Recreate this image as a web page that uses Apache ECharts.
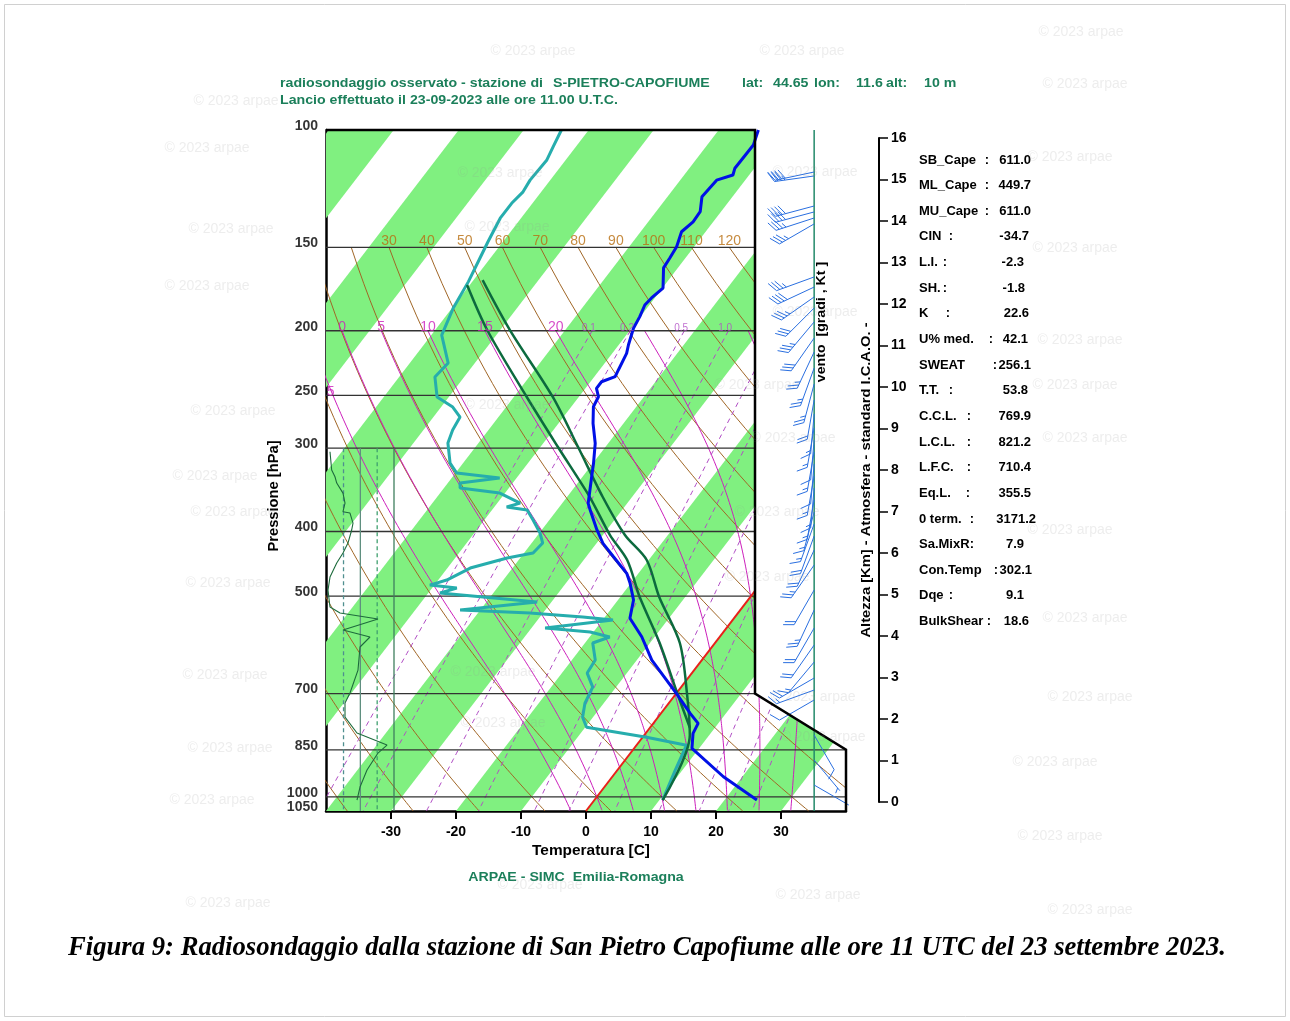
<!DOCTYPE html>
<html><head><meta charset="utf-8">
<script src="https://cdn.jsdelivr.net/npm/echarts@6/dist/echarts.min.js"></script>
<style>html,body{margin:0;padding:0;background:#fff}#c{width:1290px;height:1021px}</style>
</head><body><div id="c"></div>
<script>
// ---------------- DATA ----------------
const PRESSURE_LEVELS = [100,150,200,250,300,400,500,700,850,1000,1050];
const TEMP_TICKS = [-30,-20,-10,0,10,20,30];

const TEMP_P = [100,105.3,114.1,116.8,118.9,125.9,132.6,137.3,142.1,149.6,155.6,161,172.6,178.6,183,190.5,198.3,210.1,216.2,229,234.4,238.5,244,251.2,260,275.3,295,316.1,331.1,346.6,362.9,371.4,397.9,416.7,436.4,462.2,478.4,506.8,539.8,575.3,623.5,699.4,749.5,775.8,803.1,845.7,932.9,1011];
const TEMP_T = [-53.9,-52.9,-53.0,-52.5,-54.4,-54.7,-53.2,-53.1,-53.7,-52.7,-52.4,-52.2,-49.9,-50.5,-50.7,-50.1,-49.7,-48.5,-47.8,-47.1,-46.8,-48.3,-48.3,-47.0,-46.6,-44.7,-42.0,-39.9,-38.6,-37.3,-36.0,-34.9,-31.5,-29.0,-25.8,-21.8,-20.1,-17.6,-16.0,-12.0,-7.7,0.0,4.5,6.9,7.3,8.9,17.1,25.0];

const DEW_P = [100,105.9,110.9,118.9,123.8,128.8,135.6,147.1,155.7,168.8,185.1,203,223.6,234.6,251.4,260.3,269.4,281.8,294.7,315.8,326.9,332.6,338.4,344.3,350.3,362.6,367.6,371.4,384.5,402.1,416.3,430.9,438.4,453.8,473,481.3,486.3,494.7,510.3,524.6,530.1,537.4,543,558.2,565.9,575.8,587.9,623.5,652.2,684.5,723.4,759.5,786.3,813.9,836.7,911.5,1011];
const DEW_T = [-84.2,-83.5,-82.9,-83.1,-82.8,-83.2,-83.2,-82.3,-81.6,-80.6,-79.8,-78.4,-74.1,-74.5,-71.8,-68.2,-65.9,-65.5,-64.7,-62.0,-59.8,-52.6,-58.1,-57.5,-50.8,-46.5,-48.1,-44.6,-42.5,-39.9,-38.3,-38.6,-42.0,-46.5,-48.7,-50.7,-46.2,-48.2,-32.2,-43.1,-32.0,-23.4,-18.4,-27.9,-20.5,-16.9,-18.8,-16.4,-16.1,-13.6,-12.9,-11.6,-9.8,0.6,7.7,8.9,10.5];

const PARCEL_SB_P = [167.9,199.5,251.4,298.8,355.1,404.9,441.4,501.6,587.9,698.7,807.7,1011];
const PARCEL_SB_T = [-78.6,-68.5,-54.0,-44.2,-34.5,-26.6,-20.3,-14.0,-5.4,1.6,7.0,10.5];
const PARCEL_ML_P = [170.8,199.5,251.4,298.8,355.1,404.9,441.4,501.6,587.9,698.7,788.5];
const PARCEL_ML_T = [-80.4,-72.0,-58.0,-47.3,-36.5,-28.9,-23.3,-17.0,-8.5,0.1,6.2];

const RH_P = [303.7,323.5,331.1,338.4,350.3,362.6,373.6,375.3,388.5,397.9,416.3,430.9,445.9,468.1,489.6,519.2,530.1,541.1,562.1,575.8,596,645.4,698.7,723.4,759.2,802.2,836.3,859.6,911.5,966.7,1011];
const RH_V = [4.9,7.4,12.3,14.9,24.2,27.2,24.2,34.6,39.1,37.1,31.6,24.2,14.9,4.9,1.9,4.9,19.8,76.2,24.2,64.3,49.5,46.5,34.6,27.2,27.2,45.0,89.6,76.2,59.9,49.5,45.0];
const RH_GUIDES = [25,50,75,100];

const WIND_P = [115.6,117.2,130,132.7,135.5,138.3,166.1,172,178,184.9,194,205.1,215.2,227.5,240.4,254,266.6,279.8,291.7,304,316.9,330.3,344.3,358.8,374,389.8,406.3,426.4,449.1,489.6,524.6,558.2,592,627.8,663.4,691.5,715.8,807.7,880.6,960];
const WIND_DIR = [258,262,255,255,252,240,250,245,235,225,220,215,205,200,195,190,185,190,185,190,185,190,185,190,195,200,200,205,215,210,205,210,215,220,240,250,240,150,140,120];
const WIND_SPD = [40,35,40,40,35,35,35,40,35,30,35,30,25,25,25,20,15,15,10,15,10,15,15,15,15,15,20,20,25,20,25,20,20,15,20,15,10,10,5,5];

const DRY_THETA = [-40,-30,-20,-10,0,10,20,30,40,50,60,70,80,90,100,110,120];
const DRY_LABELS = [30,40,50,60,70,80,90,100,110,120];
const MOIST_THW = [-5,0,5,10,15,20,25,30];
const MOIST_LABELS = [0,5,10,15,20];
const MIX_W = [0.1,0.2,0.5,1,2,3,5,8,12,16,20];
const MIX_LABELS = [0.1,0.2,0.5,1.0];
const GREEN_BAND_LOWER = [-120,-100,-80,-60,-40,-20,0,20];

const INDEX_NAMES = ['SB_Cape','ML_Cape','MU_Cape','CIN','L.I.','SH.','K','U% med.','SWEAT','T.T.','C.C.L.','L.C.L.','L.F.C.','Eq.L.','0 term.','Sa.MixR','Con.Temp','Dqe','BulkShear'];
const INDEX_VALUES = ['611.0','449.7','611.0','-34.7','-2.3','-1.8','22.6','42.1','256.1','53.8','769.9','821.2','710.4','355.5','3171.2','7.9','302.1','9.1','18.6'];

// ---------------- LAYOUT ----------------
const SKEW = 34.2;
const P_BOT = 1050, P_TOP = 100;
const FRAME_X_UPPER = 26, FRAME_X_LOWER = 40, FRAME_P1 = 700, FRAME_P2 = 850;
const WIND_STAFF_X = 35.1;
const INDEX_COLON_X = [987,987,987,951,945,945,948,991,995,951,969,969,969,968,972,972,996,951,989];
const INDEX_VALUE_R = [1031,1031,1031,1029,1024,1025,1029,1028,1031,1028,1031,1031,1031,1031,1036,1024,1032,1024,1029];
const TITLE_PIECES = [[280,'radiosondaggio osservato - stazione di'],[553,'S-PIETRO-CAPOFIUME'],[742,'lat:'],[773,'44.65'],[814,'lon:'],[856,'11.6'],[886,'alt:'],[924,'10 m']];
const WATERMARKS = [[533,51],[802,51],[1081,32],[236,101],[1085,84],[207,148],[500,173],[815,172],[1070,157],[231,229],[507,227],[207,286],[1075,248],[815,312],[1080,340],[233,411],[507,405],[757,385],[1075,385],[793,438],[1085,438],[215,476],[233,512],[777,512],[1070,530],[228,583],[767,577],[1085,618],[225,675],[493,672],[813,697],[1090,697],[503,723],[823,737],[230,748],[1055,762],[212,800],[1060,836],[228,903],[818,895],[1090,910],[540,885]];

const GREEN = '#80f080', DRY_C = '#a06626', DRY_LBL = '#b86e10', MOIST_C = '#cc1fbb', MIX_C = '#b04cc4';
const FONT = "'Liberation Sans', Arial, sans-serif";
const SX = 1.09;

// ---------------- HELPERS ----------------
const skx = (T, p) => T + SKEW * Math.log(P_BOT / p);
const frameX = p => p <= FRAME_P1 ? FRAME_X_UPPER : (p >= FRAME_P2 ? FRAME_X_LOWER :
  FRAME_X_UPPER + (FRAME_X_LOWER - FRAME_X_UPPER) * Math.log(p / FRAME_P1) / Math.log(FRAME_P2 / FRAME_P1));
const prof = (P, T) => P.map((p, i) => [skx(T[i], p), p]);

function dryLine(theta) {
  const out = [];
  for (let p = 150; p <= 1050; p += 10) out.push([skx((theta + 273.15) * Math.pow(p / 1000, 0.2857) - 273.15, p), p]);
  return out;
}
function moistLine(thw) {
  const Rd = 287.04, cp = 1005.7, Lv = 2.501e6, eps = 0.622;
  const es = T => 6.112 * Math.exp(17.67 * (T - 273.15) / (T - 29.65));
  const f = (T, p) => { const e = es(T); const rs = eps * e / (p - e); return (Rd * T + Lv * rs) / (cp + Lv * Lv * rs * eps / (Rd * T * T)) / p; };
  const up = [], dn = [];
  let T = thw + 273.15, p = 1000;
  up.push([T, p]);
  while (p > 200) { const dp = -2; const k1 = f(T, p); const k2 = f(T + k1 * dp, p + dp); T += (k1 + k2) / 2 * dp; p += dp; up.push([T, p]); }
  T = thw + 273.15; p = 1000;
  while (p < 1050) { const dp = 2; const k1 = f(T, p); const k2 = f(T + k1 * dp, p + dp); T += (k1 + k2) / 2 * dp; p += dp; dn.push([T, p]); }
  return up.reverse().concat(dn).filter((d, i) => i % 3 === 0 || d[1] >= 1040).map(d => [skx(d[0] - 273.15, d[1]), d[1]]);
}
function mixTd(w, p) { const e = p * w / (622 + w); const l = Math.log(e / 6.112); return 243.5 * l / (17.67 - l); }
function mixLine(w) { const out = []; for (let p = 200; p <= 1050; p += 10) out.push([skx(mixTd(w, p), p), p]); return out; }

// ---------------- SERIES ----------------
const series = [];
const clipRect = params => ({ type: 'rect', shape: { x: params.coordSys.x, y: params.coordSys.y, width: params.coordSys.width, height: params.coordSys.height } });

series.push({
  type: 'custom', z: 1, silent: true, clip: true,
  data: GREEN_BAND_LOWER.map(t => [t, P_BOT]),
  renderItem(params, api) {
    const t0 = api.value(0);
    const pts = [[skx(t0, P_TOP), P_TOP], [skx(t0 + 10, P_TOP), P_TOP], [skx(t0 + 10, P_BOT), P_BOT], [skx(t0, P_BOT), P_BOT]].map(d => api.coord(d));
    return { type: 'group', clipPath: clipRect(params), children: [{ type: 'polygon', shape: { points: pts }, style: { fill: GREEN } }] };
  }
});
series.push({
  type: 'custom', z: 3, silent: true,
  data: PRESSURE_LEVELS.filter(p => p > P_TOP && p < P_BOT).map(p => [-40, p]),
  renderItem(params, api) {
    const p = api.value(1);
    const a = api.coord([-40, p]), b = api.coord([frameX(p), p]);
    return { type: 'line', shape: { x1: a[0], y1: a[1], x2: b[0], y2: b[1] }, style: { stroke: '#333', lineWidth: 1.3 } };
  }
});
DRY_THETA.forEach(th => series.push({ type: 'line', z: 2, silent: true, showSymbol: false, clip: true, data: dryLine(th), lineStyle: { color: DRY_C, width: 1 } }));
MOIST_THW.forEach(th => series.push({ type: 'line', z: 2, silent: true, showSymbol: false, clip: true, data: moistLine(th), lineStyle: { color: MOIST_C, width: 1 } }));
MIX_W.forEach(w => series.push({ type: 'line', z: 2, silent: true, showSymbol: false, clip: true, data: mixLine(w), lineStyle: { color: MIX_C, width: 1, type: [5, 4] } }));
series.push({ type: 'line', z: 3, silent: true, showSymbol: false, clip: true, data: [[skx(0, P_BOT), P_BOT], [skx(0, 480), 480]], lineStyle: { color: '#e8201a', width: 2 } });

const lblSeries = (data, color, size, dy, weight) => ({
  type: 'scatter', z: 7, silent: true, symbolSize: 0, data, clip: false,
  label: { show: true, position: 'inside', offset: [0, dy], formatter: p => p.data[2], color, fontSize: size, fontFamily: FONT, fontWeight: weight || 'normal' }
});
series.push(lblSeries(DRY_LABELS.map(t => [skx((t + 273.15) * Math.pow(0.15, 0.2857) - 273.15, 150), 150, String(t)]), DRY_LBL, 14, -6));
series.push(lblSeries(MOIST_LABELS.map(t => { const d = moistLine(t)[0]; return [d[0], 200, String(t)]; }), MOIST_C, 14, -4));
series.push(lblSeries([[-39.3, 250, '5']], MOIST_C, 14, -3));
series.push(lblSeries(MIX_LABELS.map(w => [skx(mixTd(w, 200), 200) - 0.5, 200, w.toFixed(1)]), MIX_C, 10, -2));
series.push({
  type: 'scatter', z: 7, silent: true, symbolSize: 0, clip: false,
  data: PRESSURE_LEVELS.map(p => [-40, p]),
  label: { show: true, position: 'left', distance: 8, offset: [0, -4], formatter: p => String(p.data[1]), color: '#000', fontSize: 14, fontWeight: 'bold', fontFamily: FONT }
});

RH_GUIDES.forEach((v, i) => series.push({
  type: 'line', xAxisIndex: 2, yAxisIndex: 2, z: 3, silent: true, showSymbol: false,
  data: [[v, 300], [v, 1050]],
  lineStyle: { color: ['#4f8f8f', '#5f8f7f', '#3f9f6f', '#3f7f5f'][i], width: 1.3, type: i % 2 === 0 ? [4, 3] : 'solid' }
}));
series.push({ type: 'line', xAxisIndex: 2, yAxisIndex: 2, z: 4, silent: true, showSymbol: false, data: RH_P.map((p, i) => [RH_V[i], p]), lineStyle: { color: '#1d6b3c', width: 1.1 } });

series.push({
  type: 'custom', z: 4, silent: true, clip: false, data: [[0, P_TOP]],
  renderItem(params, api) {
    const pts = [[FRAME_X_UPPER, P_TOP], [FRAME_X_LOWER + 1, P_TOP], [FRAME_X_LOWER + 1, FRAME_P2], [FRAME_X_LOWER, FRAME_P2], [FRAME_X_UPPER, FRAME_P1]].map(d => api.coord(d));
    pts[0][1] -= 2; pts[1][1] -= 2; pts[0][0] += 1; pts[4][0] += 1;
    return { type: 'polygon', shape: { points: pts }, style: { fill: '#fff' } };
  }
});
series.push({
  type: 'custom', z: 8, silent: true, clip: false, data: [[0, P_TOP]],
  renderItem(params, api) {
    const pts = [[-40, P_TOP], [FRAME_X_UPPER, P_TOP], [FRAME_X_UPPER, FRAME_P1], [FRAME_X_LOWER, FRAME_P2], [FRAME_X_LOWER, P_BOT]].map(d => api.coord(d));
    return { type: 'polyline', shape: { points: pts }, style: { stroke: '#000', lineWidth: 2.5, fill: null } };
  }
});

series.push({ type: 'line', z: 5, silent: true, showSymbol: false, clip: false, data: [[WIND_STAFF_X, P_TOP], [WIND_STAFF_X, P_BOT]], lineStyle: { color: '#238a6a', width: 1.5 } });
series.push({
  type: 'custom', z: 6, silent: true, clip: false,
  data: WIND_P.map((p, i) => [WIND_STAFF_X, p, WIND_DIR[i], WIND_SPD[i]]),
  encode: { x: 0, y: 1 },
  renderItem(params, api) {
    const b = api.coord([api.value(0), api.value(1)]);
    const d = api.value(2) * Math.PI / 180, s = api.value(3);
    const L = 40, F = 11, G = 3.5, C = '#2a6fe0';
    const ux = Math.sin(d), uy = -Math.cos(d), rx = -uy, ry = ux;
    const tip = [b[0] + ux * L, b[1] + uy * L];
    const ch = [{ type: 'line', shape: { x1: b[0], y1: b[1], x2: tip[0], y2: tip[1] }, style: { stroke: C, lineWidth: 1 } }];
    let rem = Math.round(s / 5) * 5, pos = 0;
    while (rem >= 50) {
      const p0 = [tip[0] - ux * pos, tip[1] - uy * pos], p1 = [p0[0] - ux * 5, p0[1] - uy * 5];
      ch.push({ type: 'polygon', shape: { points: [p0, [p0[0] + rx * F, p0[1] + ry * F], p1] }, style: { fill: C } });
      pos += 6; rem -= 50;
    }
    while (rem >= 10) {
      const p0 = [tip[0] - ux * pos, tip[1] - uy * pos];
      ch.push({ type: 'line', shape: { x1: p0[0], y1: p0[1], x2: p0[0] + (rx * 0.87 + ux * 0.5) * F, y2: p0[1] + (ry * 0.87 + uy * 0.5) * F }, style: { stroke: C, lineWidth: 1 } });
      pos += G; rem -= 10;
    }
    if (rem >= 5) {
      if (pos === 0) pos = G;
      const p0 = [tip[0] - ux * pos, tip[1] - uy * pos];
      ch.push({ type: 'line', shape: { x1: p0[0], y1: p0[1], x2: p0[0] + (rx * 0.87 + ux * 0.5) * F * 0.5, y2: p0[1] + (ry * 0.87 + uy * 0.5) * F * 0.5 }, style: { stroke: C, lineWidth: 1 } });
    }
    return { type: 'group', children: ch };
  }
});

series.push({ type: 'line', z: 6, silent: true, showSymbol: false, clip: false, data: prof(DEW_P, DEW_T), lineStyle: { color: '#26adad', width: 3 } });
series.push({ type: 'line', z: 6, silent: true, showSymbol: false, clip: false, data: prof(PARCEL_ML_P, PARCEL_ML_T), smooth: 0.3, lineStyle: { color: '#0c6a3e', width: 2.5 } });
series.push({ type: 'line', z: 6, silent: true, showSymbol: false, clip: false, data: prof(PARCEL_SB_P, PARCEL_SB_T), smooth: 0.3, lineStyle: { color: '#0c6a3e', width: 2.5 } });
series.push({ type: 'line', z: 7, silent: true, showSymbol: false, clip: false, data: prof(TEMP_P, TEMP_T), lineStyle: { color: '#0010e6', width: 3 } });
series.push({ type: 'scatter', xAxisIndex: 1, yAxisIndex: 1, data: [], silent: true });

// ---------------- GRAPHICS ----------------
const g = [];
const txt = (x, y, text, opt, extra) => g.push(Object.assign({ type: 'text', x, y, z: 50, silent: true, scaleX: SX, style: Object.assign({ text, font: 'bold 13px ' + FONT, fill: '#000', textAlign: 'left', textVerticalAlign: 'middle' }, opt || {}) }, extra || {}));
const TITLE_C = '#1b7f5a';
TITLE_PIECES.forEach(t => txt(t[0], 83, t[1], { fill: TITLE_C }));
txt(280, 100, 'Lancio effettuato il 23-09-2023 alle ore 11.00 U.T.C.', { fill: TITLE_C });
txt(591, 851, 'Temperatura [C]', { textAlign: 'center', font: 'bold 14px ' + FONT }, { scaleX: 1.1 });
txt(576, 877, 'ARPAE - SIMC  Emilia-Romagna', { textAlign: 'center', fill: TITLE_C });
txt(274, 496, 'Pressione [hPa]', { textAlign: 'center', font: 'bold 14px ' + FONT }, { rotation: Math.PI / 2, scaleX: 1.05 });
txt(866, 480, 'Altezza [Km] - Atmosfera - standard I.C.A.O. -', { textAlign: 'center' }, { rotation: Math.PI / 2, scaleX: 1.13 });
txt(821, 322, 'vento  [gradi , Kt ]', { textAlign: 'center' }, { rotation: Math.PI / 2 });
INDEX_NAMES.forEach((n, i) => {
  const y = 160 + 25.64 * i;
  txt(919, y, n, null, { scaleX: 1 });
  txt(INDEX_COLON_X[i], y, ':', { textAlign: 'center' }, { scaleX: 1 });
  txt(INDEX_VALUE_R[i], y, INDEX_VALUES[i], { textAlign: 'right' }, { scaleX: 1 });
});
const CAP = 'Figura 9: Radiosondaggio dalla stazione di San Pietro Capofiume alle ore 11 UTC del 23 settembre 2023.';
const CAP_FONT = "italic bold 28px 'Liberation Serif', 'Times New Roman', serif";
const cv = document.createElement('canvas').getContext('2d'); cv.font = CAP_FONT;
const capW = cv.measureText(CAP).width;
g.push({ type: 'text', x: 68, y: 948, scaleX: 1158 / capW, z: 50, silent: true, style: { text: CAP, font: CAP_FONT, fill: '#000', textAlign: 'left', textVerticalAlign: 'middle' } });
WATERMARKS.forEach(w => g.push({ type: 'text', x: w[0], y: w[1], z: 60, silent: true, style: { text: '\u00a9 2023 arpae', font: '14px ' + FONT, fill: 'rgba(150,150,150,0.17)', textAlign: 'center', textVerticalAlign: 'middle' } }));
g.push({ type: 'rect', z: 0, silent: true, shape: { x: 4.5, y: 4.5, width: 1281, height: 1012 }, style: { fill: null, stroke: '#d0d0d0', lineWidth: 1 } });

// ---------------- CHART ----------------
const chart = echarts.init(document.getElementById('c'));
chart.setOption({
  animation: false,
  backgroundColor: '#fff',
  grid: [
    { left: 326, top: 130, width: 520, height: 681 },
    { left: 878, top: 138, width: 1, height: 664 },
    { left: 326.7, top: 448.2, width: 67.3, height: 362.8 }
  ],
  xAxis: [
    { gridIndex: 0, type: 'value', min: -40, max: 40, interval: 10,
      axisLine: { onZero: false, lineStyle: { color: '#000', width: 2.5 } },
      axisTick: { customValues: TEMP_TICKS, length: 8, lineStyle: { color: '#000', width: 2 } },
      axisLabel: { customValues: TEMP_TICKS, color: '#000', fontSize: 14, fontWeight: 'bold', fontFamily: FONT, margin: 14 },
      splitLine: { show: false } },
    { gridIndex: 1, type: 'value', show: false },
    { gridIndex: 2, type: 'value', min: 0, max: 100, show: false }
  ],
  yAxis: [
    { gridIndex: 0, type: 'log', min: P_TOP, max: P_BOT, inverse: true,
      axisLine: { show: true, onZero: false, lineStyle: { color: '#000', width: 2.5 } },
      axisTick: { show: false }, axisLabel: { show: false }, splitLine: { show: false } },
    { gridIndex: 1, type: 'value', min: 0, max: 16, interval: 1, position: 'right',
      axisLine: { show: true, onZero: false, lineStyle: { color: '#000', width: 2 } },
      axisTick: { show: true, length: 9, lineStyle: { color: '#000', width: 1.5 } },
      axisLabel: { color: '#000', fontSize: 14, fontWeight: 'bold', fontFamily: FONT, margin: 12 },
      splitLine: { show: false } },
    { gridIndex: 2, type: 'log', min: 300, max: 1050, inverse: true, show: false }
  ],
  series,
  graphic: g
});
</script></body></html>
